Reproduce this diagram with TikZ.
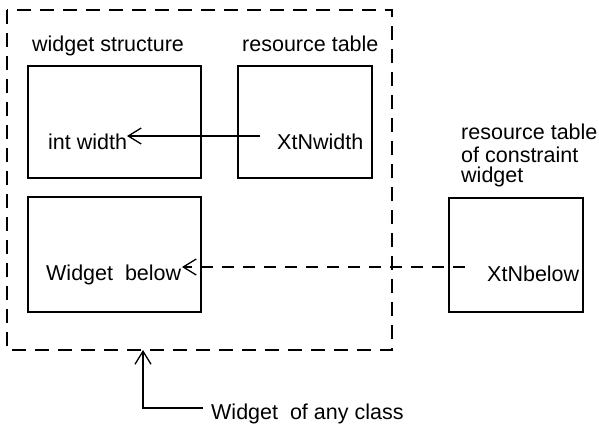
\documentclass[tikz,border=0pt]{standalone}
\usepackage{fontspec}
\setmainfont{Liberation Sans}
\usetikzlibrary{arrows.meta}
\tikzset{
  box/.style={draw, line width=1.5pt, inner sep=0pt, outer sep=0pt},
  lbl/.style={anchor=base west, inner sep=0pt, font=\fontsize{21.5}{23}\selectfont},
  frame/.style={draw, line width=1.8pt, dash pattern=on 14pt off 9pt},
  arr/.style={line width=1.3pt, -{Straight Barb[length=13pt,width=16pt,line width=1.3pt]}},
  darr/.style={arr, dash pattern=on 12pt off 9pt},
}
\begin{document}
\begin{tikzpicture}[x=1pt,y=-1pt]
  \useasboundingbox[fill=white] (0,0) rectangle (599,423);

  % enclosing widget instance
  \draw[frame] (7,10) rectangle (392,350);
  \coordinate (frameb) at (143,350);

  % boxes
  \node[box, minimum width=173pt, minimum height=112pt] (ws) at (114.5,122) {};
  \node[box, minimum width=134pt, minimum height=112pt] (rt) at (305,122) {};
  \node[box, minimum width=173pt, minimum height=115pt] (wb) at (114.5,254.5) {};
  \node[box, minimum width=134pt, minimum height=114pt] (ct) at (516,255) {};

  % headings
  \node[lbl] (wslbl) at (32,51) {widget structure};
  \node[lbl] (rtlbl) at (242,51) {resource table};
  \node[lbl] (ctl1) at (461,139) {resource table};
  \node[lbl] (ctl2) at (461,162) {of constraint};
  \node[lbl] (ctl3) at (461,182) {widget};

  % entries
  \node[lbl] (iw) at (48,149) {int width};
  \node[lbl] (xw) at (277,149) {XtNwidth};
  \node[lbl] (wbl) at (46,280) {Widget\ \ below};
  \node[lbl] (xb) at (487,281) {XtNbelow};
  \node[lbl] (any) at (211,419) {Widget\ \ of any class};

  % connectors
  \coordinate (w0) at (260,136);
  \coordinate (w1) at (127,136);
  \draw[arr] (w0) -- (w1);

  \coordinate (b0) at (465,267);
  \coordinate (b1) at (182,267);
  \draw[darr] (b0) -- (b1);

  \coordinate (a0) at (203,408);
  \draw[arr] (a0) -- (143,408) -- (frameb);
\end{tikzpicture}
\end{document}
